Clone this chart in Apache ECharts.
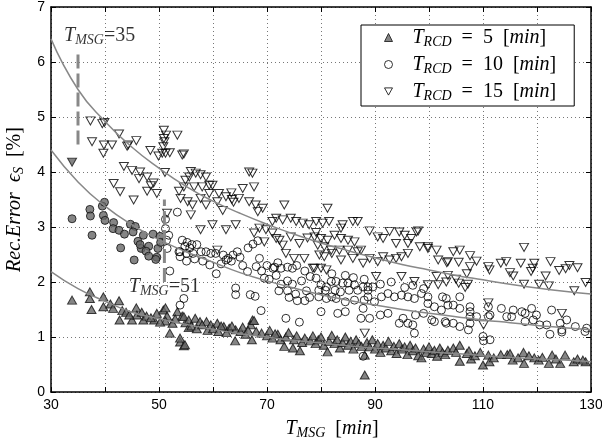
<!DOCTYPE html>
<html><head><meta charset="utf-8">
<script src="https://cdn.jsdelivr.net/npm/echarts@6/dist/echarts.min.js"></script>
<style>html,body{margin:0;padding:0;background:#fff}#c{width:602px;height:445px}</style>
</head><body><div id="c"></div>
<script>
// ---------------- data ----------------
const xLabels = [30, 50, 70, 90, 110, 130];
const yLabels = [0, 1, 2, 3, 4, 5, 6, 7];
const legendNames = ['T_RCD = 5 [min]', 'T_RCD = 10 [min]', 'T_RCD = 15 [min]'];
const legendNumbers = ['5', '10', '15'];

// T_RCD = 5 (filled triangles)
const rcd5 = [
[33.9,1.67],[37.2,1.82],[37.5,1.50],[37.2,1.70],[39.7,1.73],[39.7,1.55],[41.0,1.60],[41.5,1.52],[42.6,1.66],[42.7,1.31],
[43.2,1.48],[43.9,1.45],[45.0,1.31],[45.8,1.53],[45.9,1.40],[46.8,1.45],[47.1,1.31],[47.7,1.38],[49.1,1.31],[49.6,1.43],
[50.8,1.49],[51.2,1.53],[51.5,1.38],[51.2,1.29],[52.0,1.07],[53.4,1.46],[53.9,0.91],[54.6,0.84],[54.3,1.38],[54.9,1.26],
[55.5,1.17],[48.5,1.35],[44.5,1.40],[50.2,1.27],[52.5,1.25],[53.0,1.33],
[54.6,1.37],[55.5,1.31],[56.7,1.34],[57.6,1.28],[58.8,1.28],[59.6,1.22],[60.8,1.25],[62.0,1.19],[63.0,1.16],[64.2,1.13],
[65.1,1.10],[67.3,1.31],[67.0,1.22],[68.0,1.10],[69.0,1.07],[53.9,0.98],[54.8,0.86],[64.1,0.93],[67.2,0.95],[73.2,0.83],
[74.8,0.80],[76.1,0.75],[56.0,1.20],[57.0,1.15],[58.0,1.22],[59.0,1.12],[60.0,1.15],[61.0,1.10],[62.5,1.08],[63.5,1.20],
[65.5,1.18],[66.0,1.05],[70.0,1.02],[70.5,1.12],[71.0,0.98],[72.0,1.05],[72.5,0.95],[73.5,1.00],[74.0,1.08],[75.0,0.95],
[75.5,1.02],[76.5,0.90],[77.0,0.98],[78.0,0.93],[78.5,1.02],[79.0,0.88],[67.6,1.30],[61.5,1.20],[66.5,1.12],[71.5,1.06],
[79.5,0.95],[80.0,1.00],[80.5,0.85],[81.2,0.73],[81.5,0.92],[82.0,1.03],[82.5,0.88],[83.0,0.95],[83.5,0.80],[84.0,0.90],
[84.5,1.00],[85.0,0.85],[85.5,0.92],[86.0,0.78],[86.5,0.95],[87.0,0.88],[87.5,0.83],[88.1,0.67],[88.1,0.31],[88.5,0.90],
[89.0,0.82],[89.5,0.95],[90.0,0.78],[90.5,0.88],[91.0,0.72],[91.5,0.85],[92.0,0.80],[92.5,0.92],[93.0,0.75],[93.5,0.83],
[94.0,0.70],[94.5,0.88],[95.0,0.78],[95.5,0.82],[96.0,0.68],[96.5,0.85],[97.0,0.75],[97.5,0.80],[98.0,0.66],[98.6,0.62],
[99.0,0.78],[99.5,0.72],[100.0,0.82],[100.5,0.70],[101.0,0.76],[101.5,0.65],[102.0,0.80],[102.5,0.72],[103.0,0.68],[103.5,0.76],
[104.5,0.80],[105.0,0.72],[105.7,0.85],[105.7,0.56],[107.0,0.70],[107.4,0.75],[107.8,0.60],[110.0,0.49],[111.0,0.67],[111.2,0.55],
[113.3,0.68],[114.5,0.68],[115.0,0.70],[115.5,0.58],[117.5,0.72],[117.6,0.52],[119.5,0.62],[120.3,0.58],[122.2,0.52],[122.8,0.67],
[124.3,0.52],[125.2,0.67],[126.8,0.55],[129.0,0.55],[108.5,0.66],[109.5,0.72],[112.0,0.62],[116.5,0.62],[118.5,0.66],[121.0,0.63],
[123.5,0.60],[127.5,0.60],[128.5,0.58]
];

// T_RCD = 10, points before T_MSG = 51 (filled grey circles)
const rcd10Early = [
[33.9,3.15],[37.2,3.32],[37.3,3.20],[37.6,2.85],[39.5,3.38],[39.9,3.45],[39.7,3.21],[40.0,3.12],[41.6,3.08],[41.5,2.97],
[42.6,2.94],[43.6,2.87],[44.7,3.05],[45.6,3.01],[45.2,2.91],[42.9,2.62],[47.1,2.85],[46.1,2.74],[46.7,2.61],[48.1,2.65],
[47.6,2.56],[45.4,2.40],[48.1,2.47],[49.6,2.45],[48.9,2.87],[49.8,2.61],[50.2,2.83],[49.4,2.41],[50.3,2.72],[46.5,2.68]
];
// T_RCD = 10 (open circles)
const rcd10 = [
[51.2,3.14],[51.2,2.97],[51.8,2.85],[51.4,2.76],[53.7,2.55],[51.5,2.61],[53.4,3.27],[52.0,2.20],[53.9,1.58],[54.6,1.70],
[54.3,2.76],[55.2,2.72],[56.1,2.68],[57.0,2.68],[54.8,2.65],[55.7,2.62],[53.9,2.55],[55.1,2.52],[56.3,2.52],[57.8,2.55],
[58.7,2.55],[59.6,2.52],[60.5,2.52],[53.9,2.46],[55.1,2.38],[56.6,2.42],[58.1,2.38],[59.4,2.31],[60.6,2.15],[61.9,2.49],
[62.8,2.43],[63.7,2.49],[64.5,2.55],[63.4,2.38],[61.5,2.33],[62.4,2.40],[68.6,2.43],[68.0,2.28],[69.0,2.20],[67.4,2.69],
[68.3,2.75],[64.2,1.89],[64.2,1.77],[66.9,1.77],[67.8,1.74],[68.9,1.48],[69.5,2.07],[70.4,2.05],[71.1,2.25],[71.7,2.12],
[71.4,2.27],[72.6,2.25],[73.8,2.27],[74.7,2.25],[72.6,1.96],[73.8,2.02],[74.7,1.96],[72.2,1.84],[73.8,1.84],[75.3,1.78],
[74.1,1.72],[75.6,1.66],[73.5,1.34],[76.0,1.27],[76.4,2.02],[77.3,1.84],[77.9,1.72],[77.0,1.66],[66.5,2.62],[65.5,2.30],
[65.0,2.45],[66.4,2.19],[70.0,2.30],[72.0,2.35],[75.5,2.30],[77.0,2.20],[78.0,2.10],
[79.1,2.07],[80.0,1.95],[81.0,1.91],[81.9,2.01],[82.8,2.01],[84.0,1.98],[85.0,1.98],[86.2,1.95],[79.6,1.85],[80.8,1.85],
[82.6,1.85],[83.6,1.82],[85.2,1.85],[86.8,1.85],[87.8,1.91],[88.7,1.85],[89.6,1.91],[79.6,1.73],[81.0,1.70],[82.0,1.73],
[82.8,1.70],[84.5,1.64],[86.2,1.67],[88.0,1.67],[88.7,1.73],[89.9,1.64],[91.2,1.73],[92.4,1.79],[93.6,1.73],[94.9,1.76],
[96.1,1.73],[97.3,1.70],[98.6,1.79],[99.8,1.61],[101.0,1.55],[102.3,1.49],[103.5,1.58],[80.0,1.46],[84.5,1.46],[87.8,1.52],
[89.0,1.34],[87.4,1.34],[91.0,1.40],[92.4,1.43],[94.5,1.25],[95.2,1.34],[96.1,1.25],[97.0,1.22],[97.5,1.40],[99.0,1.43],
[100.5,1.31],[101.0,1.28],[103.0,1.28],[97.3,1.07],[87.8,0.65],[83.1,1.43],[82.0,2.15],[84.5,2.12],[86.0,2.08],[88.0,2.05],
[88.7,1.91],[91.0,1.96],[93.0,2.00],[95.5,1.90],[97.0,1.94],[99.0,1.88],[99.8,1.73],[102.5,1.73],
[103.2,1.70],[104.5,1.58],[105.7,1.73],[105.7,1.52],[107.6,1.55],[107.6,1.46],[107.6,1.37],[107.6,1.25],[107.3,1.13],[104.5,1.25],
[105.7,1.19],[103.2,1.25],[108.8,1.37],[111.0,1.55],[111.0,1.37],[111.3,1.40],[113.4,1.52],[114.4,1.37],[115.3,1.37],[115.6,1.49],
[117.2,1.46],[117.8,1.43],[117.8,1.28],[119.0,1.52],[119.9,1.40],[119.3,1.31],[120.5,1.22],[121.8,1.22],[122.7,1.49],[124.3,1.25],
[124.6,1.13],[125.5,1.31],[127.1,1.19],[129.2,1.16],[110.0,1.01],[111.3,0.95],[110.1,0.93],[128.9,1.10],[122.4,1.05],[124.6,1.09]
];

// T_RCD = 15, point before T_MSG = 35 (filled grey inverted triangle)
const rcd15Early = [[33.9,4.18]];
// T_RCD = 15 (open inverted triangles)
const rcd15 = [
[37.3,4.93],[39.5,4.88],[39.9,4.90],[37.6,4.55],[39.8,4.49],[41.3,4.49],[39.7,4.34],[42.6,4.69],[45.8,4.57],[44.3,4.49],
[48.4,4.39],[49.9,4.29],[50.6,4.34],[51.0,4.55],[51.3,4.67],[50.9,4.76],[53.4,4.67],[43.5,4.10],[45.0,4.03],[46.5,4.00],
[47.8,3.91],[46.3,3.88],[49.0,3.80],[47.8,3.65],[49.6,3.61],[51.1,3.99],[41.6,3.79],[42.8,3.64],[45.3,3.49],[51.5,3.25],
[53.7,3.65],[54.6,4.33],[50.8,4.46],[51.2,4.34],[52.0,4.35],[50.9,4.61],[44.1,4.47],[48.5,3.75],
[54.3,4.31],[55.9,4.01],[56.8,3.98],[57.7,3.95],[58.7,3.91],[55.6,3.91],[54.9,3.85],[54.6,3.73],[56.5,3.73],[58.0,3.73],
[59.3,3.76],[59.9,3.76],[54.0,3.52],[55.3,3.46],[56.2,3.40],[55.9,3.22],[57.7,3.52],[58.7,3.40],[59.3,3.61],[61.1,3.61],
[60.8,3.46],[62.4,3.55],[63.5,3.50],[67.3,3.98],[67.6,3.73],[65.5,3.70],[64.8,3.52],[66.7,3.46],[67.9,3.40],[69.2,3.34],
[68.3,3.28],[57.7,2.95],[59.9,3.04],[62.4,2.95],[64.2,3.04],[60.8,2.58],[73.2,3.40],[71.7,3.16],[72.9,3.13],[74.4,3.16],
[75.4,3.10],[76.6,3.07],[77.8,3.04],[71.0,2.89],[69.5,2.73],[71.7,2.79],[72.9,2.67],[73.5,2.52],[75.0,2.43],[76.9,2.43],
[78.5,2.25],[67.6,2.89],[68.6,2.98],[69.8,2.95],[71.0,3.10],[72.3,2.76],[74.4,2.82],[76.0,2.70],[77.5,2.80],[79.1,2.90],
[63.4,3.62],[63.8,3.45],[61.8,3.30],[66.7,4.00],
[81.2,3.34],[79.1,3.10],[80.3,3.07],[81.5,3.10],[83.7,2.98],[84.0,3.04],[85.9,3.10],[86.8,3.10],[89.0,2.93],[90.5,2.82],
[91.5,2.79],[92.7,2.92],[94.5,2.91],[95.5,2.85],[96.7,2.79],[98.0,2.93],[93.9,2.70],[96.1,2.70],[98.3,2.64],[99.8,2.61],
[101.4,2.58],[101.7,2.40],[103.5,2.37],[78.8,2.82],[80.0,2.79],[81.2,2.76],[82.5,2.85],[83.7,2.79],[85.0,2.76],[86.2,2.73],
[87.4,2.58],[79.4,2.67],[80.6,2.64],[81.9,2.58],[83.4,2.58],[85.0,2.58],[86.8,2.55],[79.7,2.49],[80.6,2.46],[82.0,2.52],
[83.7,2.40],[85.9,2.43],[87.8,2.34],[89.0,2.43],[90.5,2.37],[91.5,2.46],[92.7,2.40],[93.9,2.43],[94.9,2.46],[96.1,2.52],
[78.8,2.25],[80.0,2.25],[81.0,2.22],[90.2,2.10],[94.9,2.10],[97.3,2.01],[99.8,1.95],[101.4,2.10],[101.7,1.95],[88.1,1.07],
[97.7,2.91],[99.8,2.64],
[104.5,2.55],[105.7,2.58],[103.3,2.35],[105.5,2.36],[107.6,2.48],[107.6,2.28],[108.8,2.38],[111.0,2.28],[111.2,2.22],[113.3,2.34],
[114.3,2.37],[117.0,2.34],[117.6,2.63],[119.5,2.34],[119.2,2.25],[118.9,2.19],[122.5,2.37],[124.1,2.21],[125.3,2.24],[115.0,2.17],
[115.6,2.11],[117.6,1.96],[120.4,1.96],[121.6,2.11],[122.2,1.93],[126.9,1.84],[129.0,1.99],[103.2,2.00],[105.0,2.05],[105.5,1.98],
[107.0,2.15],[107.2,1.96],[106.7,1.90],[103.5,2.12],[111.0,1.62],[110.1,1.22],[124.6,1.43],[126.0,2.30],[127.5,2.26]
];

// fitted curves
const curveX = [30,35,40,45,50,55,60,65,70,75,80,85,90,95,100,105,110,115,120,125,130];
const fit5  = [2.19,1.88,1.65,1.45,1.33,1.23,1.14,1.06,1.00,0.94,0.89,0.84,0.80,0.77,0.73,0.70,0.66,0.63,0.60,0.58,0.55];
const fit10 = [4.40,3.82,3.38,3.04,2.77,2.55,2.36,2.17,2.02,1.89,1.77,1.67,1.58,1.50,1.43,1.37,1.31,1.26,1.21,1.17,1.13];
const fit15 = [6.42,5.50,4.92,4.45,4.07,3.74,3.47,3.25,3.05,2.87,2.71,2.57,2.44,2.32,2.22,2.12,2.04,1.96,1.89,1.83,1.78];

// dashed markers and their labels
const marker35 = [[35, 4.5], [35, 6.2]];
const marker51 = [[51, 2.0], [51, 3.5]];
const annotValues = ['35', '51'];
const annotPoints = [[39.0, 6.47], [51.0, 1.91]];

// ---------------- styles ----------------
const SERIF = 'Liberation Serif';
const rich = {
  T: {fontFamily: SERIF, fontStyle: 'italic', fontSize: 20, lineHeight: 23, color: '#000'},
  s: {fontFamily: SERIF, fontStyle: 'italic', fontSize: 14, lineHeight: 14, padding: [9, 0, 0, 0], color: '#000'},
  n: {fontFamily: SERIF, fontSize: 20, lineHeight: 23, color: '#000'},
  g: {width: 15, lineHeight: 23}
};
const zip = (xs, ys) => xs.map((x, i) => [x, ys[i]]);

const chart = echarts.init(document.getElementById('c'), null, {renderer: 'canvas'});
const axisLineStyle = {color: '#000', width: 1.5};
const gridLine = {show: true, lineStyle: {color: '#777', width: 1, type: [1, 3]}};

const openStyle = {color: 'rgba(0,0,0,0)', borderColor: '#000', borderWidth: 1};
const greyStyle = {color: '#666', borderColor: '#111', borderWidth: 1};
const invTri = 'path://M0,0L10,0L5,9Z';

chart.setOption({
  animation: false,
  backgroundColor: '#fff',
  grid: {left: 51, right: 11, top: 7, bottom: 53, containLabel: false, outerBoundsMode: 'none'},
  legend: {
    orient: 'vertical', left: 361, top: 25,
    padding: [1, 18, 3, 23], itemGap: 4, itemWidth: 8, itemHeight: 8,
    backgroundColor: '#fff', borderColor: '#000', borderWidth: 1, borderRadius: 0,
    selectedMode: false,
    data: [
      {name: legendNames[0], icon: 'triangle', itemStyle: greyStyle},
      {name: legendNames[1], icon: 'circle', itemStyle: {color: '#fff', borderColor: '#000', borderWidth: 1}},
      {name: legendNames[2], icon: invTri, itemStyle: {color: '#fff', borderColor: '#000', borderWidth: 1}}
    ],
    formatter: name => {
      const k = legendNames.indexOf(name);
      return '{g|}{T|T}{s|RCD}{n|  =  ' + legendNumbers[k] + '  [}{T|min}{n|]}';
    },
    textStyle: {rich: rich}
  },
  xAxis: [{
    type: 'value', min: 30, max: 130, interval: 10, position: 'bottom',
    axisLine: {show: true, onZero: false, lineStyle: axisLineStyle},
    axisTick: {show: true, inside: true, length: 5, lineStyle: {color: '#000', width: 1}},
    axisLabel: {formatter: v => (xLabels.indexOf(v) >= 0 ? String(v) : ''), color: '#000',
      fontSize: 14, fontFamily: 'Liberation Sans', margin: 6, showMinLabel: true, showMaxLabel: true},
    splitLine: gridLine,
    name: '{T|T}{s|MSG}{n|  [}{T|min}{n|]}', nameLocation: 'middle', nameGap: 23,
    nameTextStyle: {rich: rich, padding: [0, 0, 0, 22]}
  }, {
    type: 'value', min: 30, max: 130, interval: 10, position: 'top',
    axisLine: {show: true, onZero: false, lineStyle: axisLineStyle},
    axisTick: {show: true, inside: true, length: 5, lineStyle: {color: '#000', width: 1}},
    axisLabel: {show: false}, splitLine: {show: false}
  }],
  yAxis: [{
    type: 'value', min: 0, max: 7, interval: 1, position: 'left',
    axisLine: {show: true, onZero: false, lineStyle: axisLineStyle},
    axisTick: {show: true, inside: true, length: 5, lineStyle: {color: '#000', width: 1}},
    axisLabel: {formatter: v => (yLabels.indexOf(v) >= 0 ? String(v) : ''), color: '#000',
      fontSize: 14, fontFamily: 'Liberation Sans', margin: 6},
    splitLine: gridLine,
    name: '{T|Rec.Error  ϵ}{s|S}{n|  [%]}', nameLocation: 'middle', nameGap: 22, nameRotate: 90,
    nameTextStyle: {rich: rich}
  }, {
    type: 'value', min: 0, max: 7, interval: 1, position: 'right',
    axisLine: {show: true, onZero: false, lineStyle: axisLineStyle},
    axisTick: {show: true, inside: true, length: 5, lineStyle: {color: '#000', width: 1}},
    axisLabel: {show: false}, splitLine: {show: false}
  }],
  series: [
    {name: legendNames[0], type: 'scatter', data: rcd5, symbol: 'triangle', symbolSize: [9, 8],
     itemStyle: greyStyle, z: 3},
    {name: 'rcd10early', type: 'scatter', data: rcd10Early, symbol: 'circle', symbolSize: 8,
     itemStyle: greyStyle, z: 3},
    {name: legendNames[1], type: 'scatter', data: rcd10, symbol: 'circle', symbolSize: 8,
     itemStyle: openStyle, z: 3},
    {name: 'rcd15early', type: 'scatter', data: rcd15Early, symbol: invTri, symbolSize: [9, 8],
     itemStyle: greyStyle, z: 3},
    {name: legendNames[2], type: 'scatter', data: rcd15, symbol: invTri, symbolSize: [9, 8],
     itemStyle: openStyle, z: 3},
    {type: 'line', data: zip(curveX, fit5), smooth: true, showSymbol: false, lineStyle: {color: '#888', width: 1.5}, z: 4, silent: true},
    {type: 'line', data: zip(curveX, fit10), smooth: true, showSymbol: false, lineStyle: {color: '#888', width: 1.5}, z: 4, silent: true},
    {type: 'line', data: zip(curveX, fit15), smooth: true, showSymbol: false, lineStyle: {color: '#888', width: 1.5}, z: 4, silent: true},
    {type: 'line', data: marker35, showSymbol: false, lineStyle: {color: '#888', width: 3, type: [14, 5]}, z: 5, silent: true},
    {type: 'line', data: marker51, showSymbol: false, lineStyle: {color: '#888', width: 3, type: [14, 5]}, z: 5, silent: true},
    {type: 'scatter', data: annotPoints, symbolSize: 0.1, itemStyle: {color: 'rgba(0,0,0,0)'}, z: 6, silent: true,
     label: {show: true, position: 'inside',
       formatter: p => '{T|T}{s|MSG}{n|=' + annotValues[p.dataIndex] + '}', rich: rich}}
  ]
});
</script></body></html>
